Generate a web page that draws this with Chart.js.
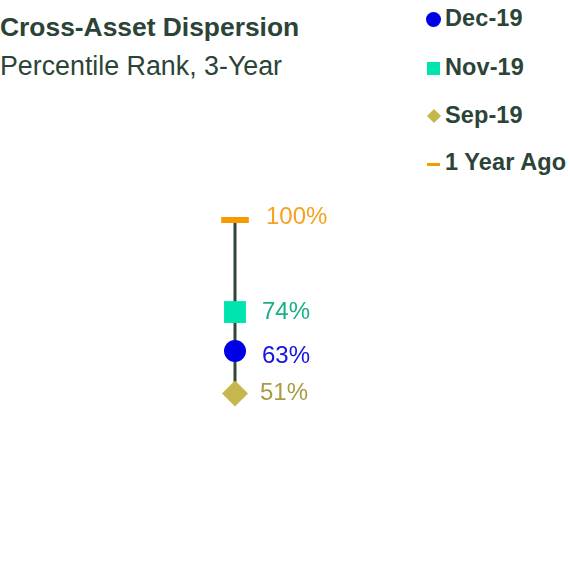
<!DOCTYPE html>
<html>
<head>
<meta charset="utf-8">
<script src="https://cdn.jsdelivr.net/npm/chart.js@4"></script>
<style>
  html, body { margin: 0; padding: 0; background: #fff; overflow: hidden; }
  body { width: 570px; height: 571px; position: relative; font-family: "Liberation Sans", Arial, sans-serif; color: #2b4437; }
  #wrap { position: absolute; left: 0; top: 0; width: 570px; height: 600px; }
  .title { position: absolute; left: 0; top: 14px; font-size: 26.4px; line-height: 26px; font-weight: bold; white-space: nowrap; }
  .subtitle { position: absolute; left: 0; top: 53px; font-size: 26.8px; line-height: 26px; white-space: nowrap; }
  .legend-item { position: absolute; left: 425px; height: 24px; white-space: nowrap; }
  .legend-item span.txt { position: absolute; left: 20px; top: 0; font-size: 23.5px; line-height: 23.5px; font-weight: bold; letter-spacing: 0.1px; }
  .mk { position: absolute; }
</style>
</head>
<body>
<div class="title">Cross-Asset Dispersion</div>
<div class="subtitle">Percentile Rank, 3-Year</div>
<div id="legend"></div>
<div id="wrap"><canvas id="chart" width="570" height="600"></canvas></div>
<script>
// data
const categories = ["Cross-Asset Dispersion"];
const seriesNames = ["Dec-19", "Nov-19", "Sep-19", "1 Year Ago"];
const seriesValues = [63, 74, 51, 100];
const yTicks = [0, 100];

// styles
const markerColors = ["#0000e6", "#00e5b0", "#c6b64e", "#f59b00"];
const labelColors = ["#1414e0", "#1aae8a", "#a89b42", "#f5a21e"];
const pointStyles = ["circle", "rect", "rectRot", "line"];
const pointRadii = [11, 15.5, 13, 13.8];
const labelDx = [27, 27, 25, 31];
const labelDy = [5, 0, 0, -3];

// legend (html)
const legend = document.getElementById("legend");
const legendTops = [7, 56, 104, 151];
seriesNames.forEach((name, i) => {
  const item = document.createElement("div");
  item.className = "legend-item";
  item.style.top = legendTops[i] + "px";
  const mk = document.createElement("div");
  mk.className = "mk";
  const c = markerColors[i];
  if (pointStyles[i] === "circle") {
    Object.assign(mk.style, { left: "1px", top: "4.5px", width: "15px", height: "15px", borderRadius: "50%", background: c });
  } else if (pointStyles[i] === "rect") {
    Object.assign(mk.style, { left: "2px", top: "5.5px", width: "13px", height: "13px", background: c });
  } else if (pointStyles[i] === "rectRot") {
    Object.assign(mk.style, { left: "3.5px", top: "7px", width: "10px", height: "10px", background: c, transform: "rotate(45deg)" });
  } else {
    Object.assign(mk.style, { left: "2px", top: "12px", width: "13px", height: "3px", background: c });
  }
  const txt = document.createElement("span");
  txt.className = "txt";
  txt.textContent = name;
  item.appendChild(mk);
  item.appendChild(txt);
  legend.appendChild(item);
});

const valueLabels = {
  id: "valueLabels",
  afterDatasetsDraw(chart) {
    const ctx = chart.ctx;
    ctx.save();
    ctx.font = '24px "Liberation Sans", Arial, sans-serif';
    ctx.textBaseline = "middle";
    ctx.textAlign = "left";
    seriesNames.forEach((name, i) => {
      const meta = chart.getDatasetMeta(i);
      const pt = meta.data[0];
      if (!pt) return;
      ctx.fillStyle = labelColors[i];
      ctx.fillText(seriesValues[i] + "%", pt.x + labelDx[i], pt.y + labelDy[i]);
    });
    ctx.restore();
  }
};

const datasets = seriesNames.map((name, i) => ({
  type: "scatter",
  label: name,
  data: [{ x: categories[0], y: seriesValues[i] }],
  pointStyle: pointStyles[i],
  pointRadius: pointRadii[i],
  pointHoverRadius: pointRadii[i],
  backgroundColor: markerColors[i],
  borderColor: markerColors[i],
  borderWidth: pointStyles[i] === "line" ? 6 : 0,
  clip: false,
  order: 1
}));

datasets.push({
  type: "line",
  label: "range",
  data: [
    { x: categories[0], y: Math.min(...seriesValues) },
    { x: categories[0], y: Math.max(...seriesValues) }
  ],
  borderColor: "#2f4538",
  borderWidth: 3,
  pointRadius: 0,
  clip: false,
  order: 10
});

new Chart(document.getElementById("chart"), {
  data: { labels: categories, datasets: datasets },
  options: {
    responsive: false,
    animation: false,
    layout: { autoPadding: false, padding: { top: 220, bottom: 26, left: 0, right: 100 } },
    scales: {
      x: { type: "category", offset: true, display: false },
      y: { min: yTicks[0], max: yTicks[1], display: false }
    },
    plugins: {
      legend: { display: false },
      tooltip: { enabled: false }
    }
  },
  plugins: [valueLabels]
});
</script>
</body>
</html>
